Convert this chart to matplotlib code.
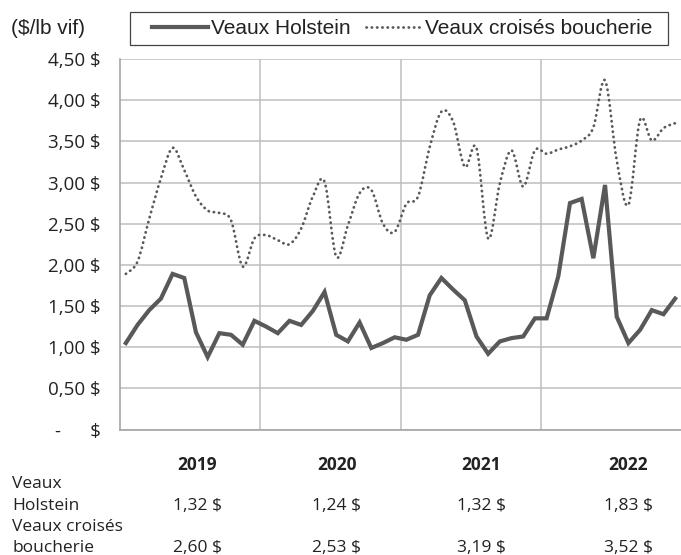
import numpy as np
import matplotlib
matplotlib.use("Agg")
import matplotlib.pyplot as plt
from matplotlib.path import Path
from matplotlib.patches import PathPatch, Rectangle
from matplotlib.lines import Line2D

# monthly prices, Jan 2019 -> Dec 2022 ($/lb vif)
holstein = [1.05, 1.27, 1.45, 1.59, 1.89, 1.84, 1.18, 0.88, 1.17, 1.15, 1.03, 1.32,
            1.25, 1.17, 1.32, 1.27, 1.44, 1.67, 1.15, 1.07, 1.30, 0.99, 1.05, 1.12,
            1.09, 1.15, 1.63, 1.84, 1.70, 1.57, 1.13, 0.92, 1.07, 1.11, 1.13, 1.35,
            1.35, 1.86, 2.75, 2.80, 2.08, 2.97, 1.37, 1.05, 1.21, 1.45, 1.40, 1.59]
croises = [1.89, 2.04, 2.56, 3.05, 3.42, 3.15, 2.83, 2.66, 2.63, 2.54, 1.98, 2.32,
           2.36, 2.30, 2.25, 2.44, 2.83, 3.01, 2.10, 2.48, 2.87, 2.91, 2.50, 2.40,
           2.74, 2.83, 3.43, 3.86, 3.74, 3.19, 3.42, 2.32, 2.99, 3.39, 2.95, 3.39,
           3.35, 3.40, 3.44, 3.51, 3.67, 4.24, 3.27, 2.73, 3.76, 3.51, 3.66, 3.72]
years = ["2019", "2020", "2021", "2022"]
moy_holstein = ["1,32 $", "1,24 $", "1,32 $", "1,83 $"]
moy_croises = ["2,60 $", "2,53 $", "3,19 $", "3,52 $"]
yticks = [0, 0.5, 1.0, 1.5, 2.0, 2.5, 3.0, 3.5, 4.0, 4.5]

W, H = 681, 555
line_col = "#595959"
grid_col = "#BFBFBF"
txt_col = "#222222"
dots = (0, (0.1, 1.8))

fig = plt.figure(figsize=(W / 100, H / 100), dpi=100)
ax = fig.add_axes([120 / W, (H - 429.5) / H, 561 / W, (429.5 - 59) / H])

x = np.arange(len(holstein)) + 0.5
ax.plot(x, holstein, color=line_col, lw=3, solid_joinstyle="miter", zorder=3)

# smoothed dotted line (Excel style bezier through the monthly points)
pts = np.column_stack([x, croises])
verts = [pts[0]]
codes = [Path.MOVETO]
n = len(pts)
for i in range(n - 1):
    p0 = pts[max(i - 1, 0)]
    p1 = pts[i]
    p2 = pts[i + 1]
    p3 = pts[min(i + 2, n - 1)]
    verts += [p1 + (p2 - p0) / 6, p2 - (p3 - p1) / 6, p2]
    codes += [Path.CURVE4] * 3
ax.add_patch(PathPatch(Path(verts, codes), fill=False, edgecolor=line_col,
                       lw=2.0, linestyle=dots, capstyle="round", zorder=3))

ax.set_xlim(0, len(holstein))
ax.set_ylim(0, 4.5)
ax.set_yticks(yticks)
ax.set_yticklabels([("%.2f $" % v).replace(".", ",") if v > 0 else "-      $" for v in yticks],
                   fontfamily="Open Sans", fontsize=13.5, color=txt_col)
ax.set_xticks([12, 24, 36])
ax.set_xticklabels([])
ax.tick_params(length=0, pad=14)
ax.grid(True, color=grid_col, lw=1.1)
ax.set_axisbelow(True)
for s in ["top", "right"]:
    ax.spines[s].set_visible(False)
for s in ["left", "bottom"]:
    ax.spines[s].set_color("#A6A6A6")
    ax.spines[s].set_linewidth(1.2)

# unit label and legend
fig.text(11 / W, 1 - 28 / H, "($/lb vif)", fontfamily="Liberation Sans", fontsize=15,
         color=txt_col, va="center", ha="left")
fig.patches.append(Rectangle((130 / W, 1 - 45 / H), 538 / W, 33 / H, transform=fig.transFigure,
                             fill=False, edgecolor="#444444", lw=0.9))
handles = [Line2D([], [], color=line_col, lw=3),
           Line2D([], [], color=line_col, lw=2.0, linestyle=dots, dash_capstyle="round")]
fig.legend(handles, ["Veaux Holstein", "Veaux croisés boucherie"], ncol=2, frameon=False,
           loc="center left", bbox_to_anchor=(152 / W, 1 - 28.5 / H), borderpad=0,
           borderaxespad=0, handlelength=2.7, handletextpad=0.15, columnspacing=0.7,
           prop={"family": "Liberation Sans", "size": 15}, labelcolor=txt_col)

# data table below the chart
col_x = [197, 337, 481, 628]
for cx, yr, vh, vc in zip(col_x, years, moy_holstein, moy_croises):
    fig.text(cx / W, 1 - 470 / H, yr, ha="center", va="baseline", fontfamily="Open Sans",
             fontweight="bold", fontsize=12.5, color=txt_col)
    fig.text(cx / W, 1 - 510 / H, vh, ha="center", va="baseline", fontfamily="Open Sans",
             fontsize=12.5, color=txt_col)
    fig.text(cx / W, 1 - 552 / H, vc, ha="center", va="baseline", fontfamily="Open Sans",
             fontsize=12.5, color=txt_col)
for yy, lab in zip([488, 510, 531, 552], ["Veaux", "Holstein", "Veaux croisés", "boucherie"]):
    fig.text(12 / W, 1 - yy / H, lab, ha="left", va="baseline", fontfamily="Open Sans",
             fontsize=12.5, color=txt_col)

fig.savefig("out.png", dpi=100)
